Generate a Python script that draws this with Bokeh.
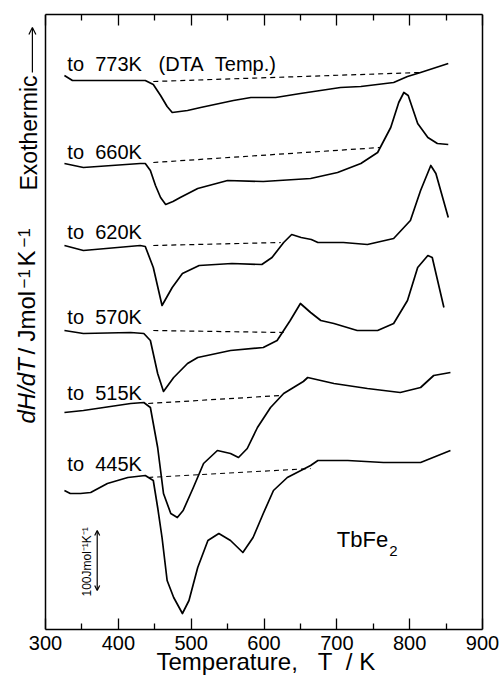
import math
from bokeh.plotting import figure
from bokeh.models import (Range1d, LinearAxis, FixedTicker, Label, Arrow, OpenHead, Span)
from bokeh.embed import file_html
from bokeh.resources import INLINE

# ---------------- data (temperature in K, stacked dH/dT in display units) -------------
t_773 = [326, 337, 389, 437, 448, 458, 467, 474, 495, 513, 558, 582, 616, 650, 705, 733, 778, 797, 815, 853]
y_773 = [554, 549, 549, 549, 545, 534, 523, 517, 519, 522, 529, 532, 532, 536, 542, 543, 547, 553, 557, 566]

t_660 = [326, 352, 430, 437, 444, 451, 458, 465, 475, 485, 509, 550, 599, 664, 701, 733, 756, 774, 785, 792, 798, 811, 825, 838, 853]
y_660 = [466, 462, 466, 466, 459, 444, 432, 425, 428, 432, 441, 449, 448, 451, 457, 466, 477, 502, 527, 537, 534, 506, 492, 486, 485]

t_620 = [326, 352, 430, 437, 448, 460, 474, 488, 511, 556, 597, 611, 627, 638, 651, 665, 674, 709, 742, 778, 801, 815, 829, 836, 853]
y_620 = [384, 379, 384, 383, 362, 324, 342, 356, 364, 366, 365, 372, 387, 395, 392, 390, 387, 387, 385, 391, 409, 439, 464, 456, 412]

t_570 = [326, 352, 417, 435, 444, 454, 462, 476, 495, 509, 554, 599, 618, 636, 650, 664, 678, 696, 728, 756, 778, 797, 811, 825, 831, 847]
y_570 = [299, 296, 297, 296, 289, 256, 238, 252, 266, 272, 279, 282, 289, 309, 326, 317, 309, 306, 299, 299, 306, 329, 362, 374, 372, 322]

t_515 = [326, 352, 417, 435, 444, 454, 462, 472, 481, 489, 503, 517, 536, 554, 565, 577, 591, 609, 627, 654, 660, 696, 742, 787, 815, 833, 856]
y_515 = [217, 219, 226, 227, 222, 182, 136, 116, 112, 119, 142, 166, 179, 176, 172, 181, 202, 222, 236, 248, 252, 246, 241, 237, 242, 254, 257]

t_445 = [326, 334, 348, 362, 385, 413, 437, 448, 454, 460, 467, 476, 488, 497, 509, 523, 538, 554, 571, 585, 599, 613, 632, 664, 674, 715, 764, 815, 856]
y_445 = [139, 136, 136, 137, 146, 152, 154, 149, 122, 92, 49, 32, 16, 29, 62, 89, 96, 89, 77, 92, 116, 139, 152, 164, 169, 169, 167, 167, 179]

# dashed baselines: (T start, T end), (y start, y end)
base_t = [(448, 815), (448, 760), (448, 623), (448, 627), (441, 623), (441, 664)]
base_y = [(548, 557), (467, 482), (384, 387), (299, 297), (226, 234), (152, 161)]

NB = "\u00a0"
labels = ["to" + NB * 2 + "773K" + NB * 3 + "(DTA" + NB * 2 + "Temp.)", "to" + NB * 2 + "660K",
          "to" + NB * 2 + "620K", "to" + NB * 2 + "570K", "to" + NB * 2 + "515K", "to" + NB * 2 + "445K"]
label_y = [555, 467, 387, 302, 226, 155]

x_ticks = [300, 400, 500, 600, 700, 800, 900]
x_minor = [350, 450, 550, 650, 750, 850]

FONT = "Liberation Sans"
K_PER_PX = 600 / 437          # temperature span of one pixel of the frame

p = figure(width=499, height=679, output_backend="svg", toolbar_location=None,
           x_range=Range1d(300 - 45 * K_PER_PX, 900 + 2 * K_PER_PX), y_range=Range1d(0, 615),
           y_axis_location=None, min_border_left=0, min_border_right=15,
           min_border_top=14, min_border_bottom=50)
p.grid.visible = False
p.outline_line_color = None

ticker = FixedTicker(ticks=x_ticks, minor_ticks=x_minor)
xa = p.xaxis[0]
xa.ticker = ticker
xa.bounds = (300, 900)
xa.axis_line_width = 1.5
xa.major_tick_in = 11
xa.major_tick_out = 0
xa.minor_tick_in = 6
xa.minor_tick_out = 0
xa.major_tick_line_width = 1.3
xa.minor_tick_line_width = 1.3
xa.major_label_text_font = FONT
xa.major_label_text_font_size = "20px"
xa.major_label_text_color = "black"
xa.major_label_standoff = 6
xa.axis_label = NB * 7 + "Temperature," + NB * 3 + "T" + NB * 2 + "/" + NB + "K"
xa.axis_label_text_font = FONT
xa.axis_label_text_font_size = "24px"
xa.axis_label_text_font_style = "normal"
xa.axis_label_text_color = "black"
xa.axis_label_standoff = -5

top = LinearAxis(ticker=ticker, bounds=(300, 900), major_tick_in=11, major_tick_out=0, minor_tick_in=6,
                 minor_tick_out=0, major_label_overrides={v: "" for v in x_ticks},
                 axis_line_width=1.5, major_tick_line_width=1.3, minor_tick_line_width=1.3)
p.add_layout(top, "above")

# left and right edges of the frame box
p.add_layout(Span(location=300, dimension="height", line_color="black", line_width=1.5))
p.add_layout(Span(location=900, dimension="height", line_color="black", line_width=1.5))

for t, y in [(t_773, y_773), (t_660, y_660), (t_620, y_620), (t_570, y_570), (t_515, y_515), (t_445, y_445)]:
    p.line(t, y, line_color="black", line_width=1.7, line_join="round")

for (ta, tb), (ya, yb) in zip(base_t, base_y):
    p.line([ta, tb], [ya, yb], line_color="black", line_width=1.2, line_dash="5 4")

for txt, ly in zip(labels, label_y):
    p.add_layout(Label(x=330, y=ly, text=txt, text_font=FONT, text_font_size="20px",
                       text_color="black"))

# compound name
p.add_layout(Label(x=700, y=78, text="TbFe", text_font=FONT, text_font_size="22px", text_color="black"))
p.add_layout(Label(x=772, y=74, text="2", text_font=FONT, text_font_size="15px", text_color="black"))

# y axis title (rotated, drawn left of the frame edge)
ROT = math.pi / 2
main_x = 292      # column of the rotated title
sup_x = 279       # raised column for superscripts
p.add_layout(Label(x=main_x, y=206, text="dH/dT", angle=ROT, text_font=FONT, text_font_size="24px",
                   text_font_style="italic", text_color="black"))
p.add_layout(Label(x=main_x, y=275, text="/", angle=ROT, text_font=FONT, text_font_size="24px",
                   text_color="black"))
p.add_layout(Label(x=main_x, y=288, text="Jmol", angle=ROT, text_font=FONT, text_font_size="24px",
                   text_color="black"))
p.add_layout(Label(x=sup_x, y=341, text="\u22121", angle=ROT, text_font=FONT, text_font_size="17px",
                   text_color="black"))
p.add_layout(Label(x=main_x, y=363, text="K", angle=ROT, text_font=FONT, text_font_size="24px",
                   text_color="black"))
p.add_layout(Label(x=sup_x, y=382, text="\u22121", angle=ROT, text_font=FONT, text_font_size="17px",
                   text_color="black"))
p.add_layout(Label(x=295, y=439, text="Exothermic", angle=ROT, text_font=FONT,
                   text_font_size="23px", text_color="black"))
p.add_layout(Arrow(end=OpenHead(size=7, line_width=1.2), x_start=282, y_start=557, x_end=282, y_end=602,
                   line_width=1.2, line_color="black"))

# scale bar
p.add_layout(Arrow(start=OpenHead(size=5, line_width=1.2), end=OpenHead(size=5, line_width=1.2),
                   x_start=371, y_start=39, x_end=371, y_end=99, line_width=1.2, line_color="black"))
p.add_layout(Label(x=367, y=33, text="100Jmol\u207b\u00b9K\u207b\u00b9", angle=ROT, text_font=FONT,
                   text_font_size="12px", text_color="black"))

open("out.html", "w").write(file_html(p, INLINE))
